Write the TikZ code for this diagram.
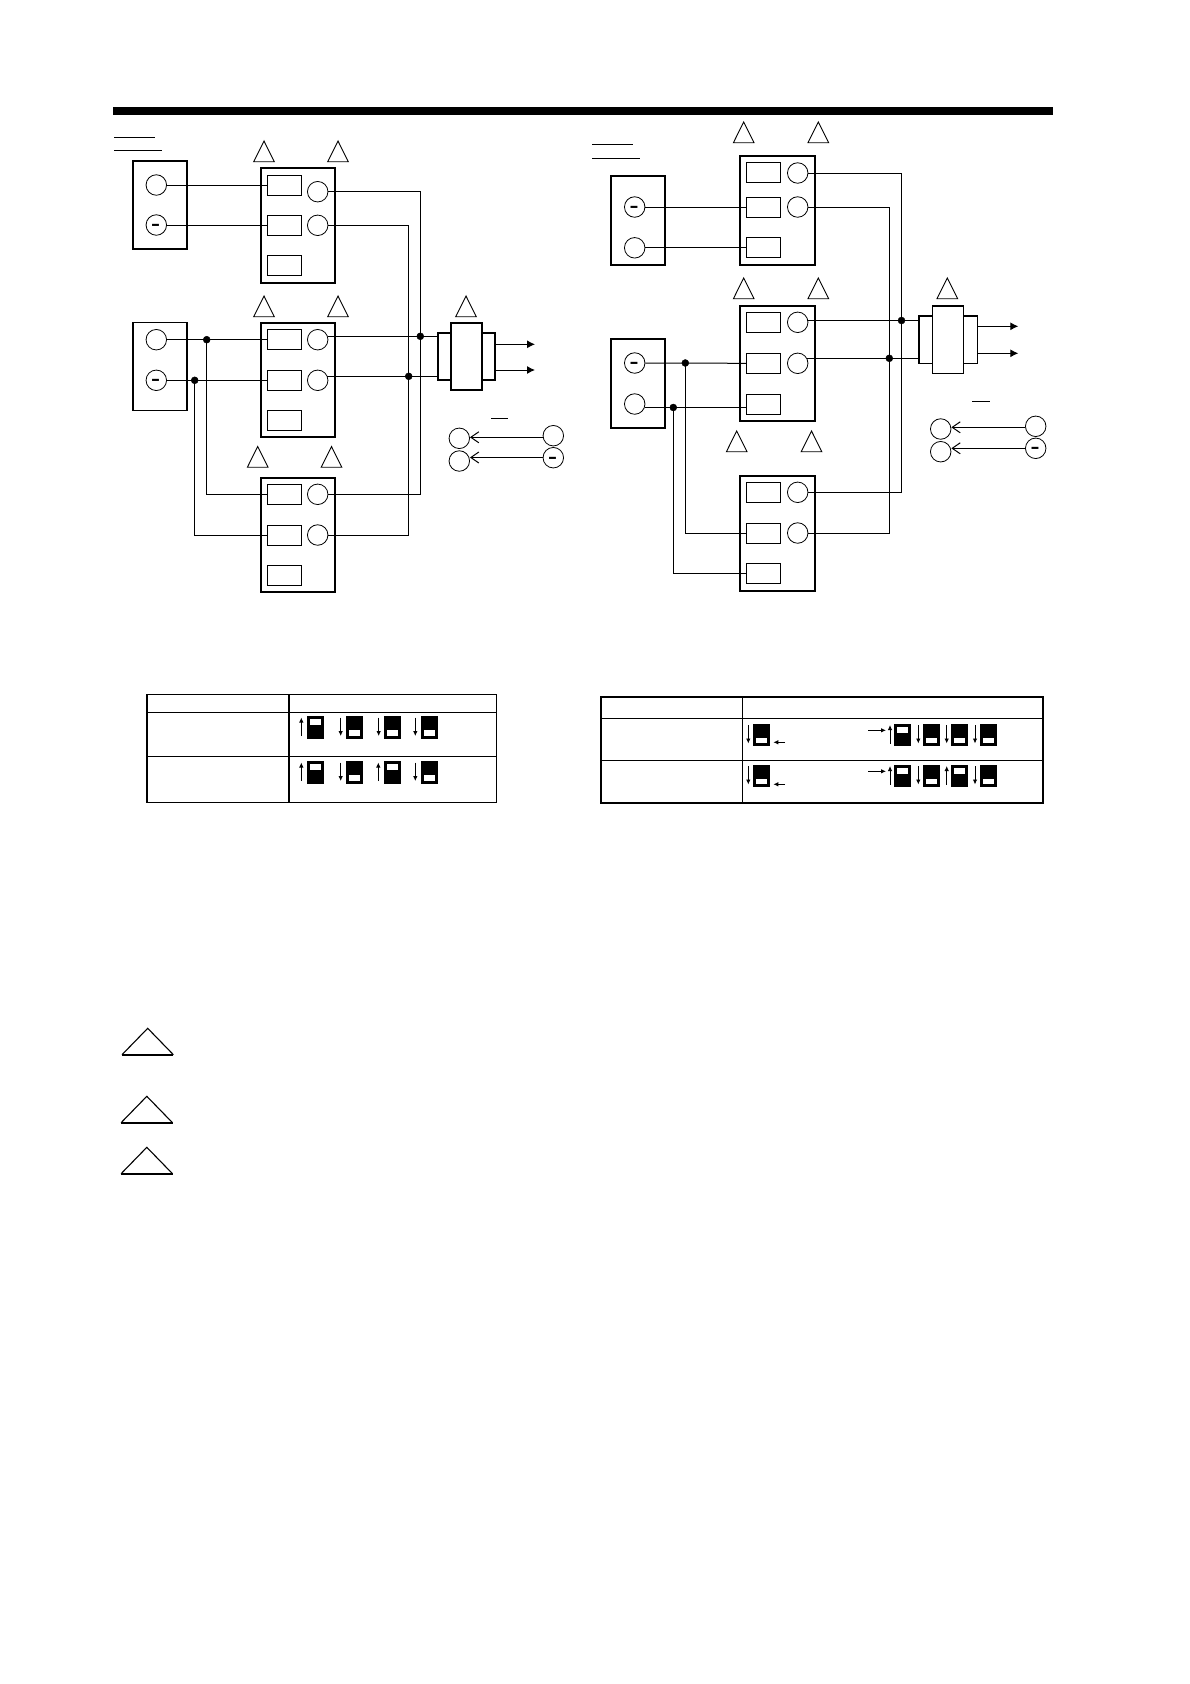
\documentclass[tikz,border=0pt]{standalone}
\usetikzlibrary{arrows.meta}
\tikzset{
  wire/.style={line width=1pt},
  termbox/.style={draw, line width=2pt, minimum width=74pt, inner sep=0pt},
  srcbox/.style={draw, line width=1.8pt, minimum width=54pt, inner sep=0pt},
  slot/.style={draw, line width=0.9pt, minimum width=34pt, minimum height=20pt, inner sep=0pt},
  port/.style={draw, circle, line width=0.8pt, minimum size=20.5pt, inner sep=0pt, font=\fontsize{23}{23}\selectfont\bfseries},
  dot/.style={draw, circle, fill=black, minimum size=7pt, inner sep=0pt},
  xfmr/.style={draw, line width=1.6pt, inner sep=0pt},
  sigarrow/.style={line width=1pt, -{Latex[length=8pt,width=8pt]}},
  legarrow/.style={line width=1pt, -{Straight Barb[length=8pt,width=11pt]}},
  mark tri/.style={draw, line width=0.9pt, line join=miter},
  swbody/.style={fill=black},
  swwin/.style={fill=white},
  swarrow/.style={line width=0.9pt, -{Latex[length=5pt,width=4.5pt]}}
}
\newcommand{\minussign}{\smash{\raisebox{-5.5pt}{-}}}
\newcommand{\swup}[3]{
  \fill[swbody] (#1,#2) rectangle ++(17,22.5);
  \fill[swwin] (#1+3,#2+3.3) rectangle ++(11,6);
  \draw[swarrow] (#3,#2+20) -- (#3,#2+1.5);
}
\newcommand{\swdown}[3]{
  \fill[swbody] (#1,#2) rectangle ++(17,22.5);
  \fill[swwin] (#1+3,#2+14) rectangle ++(11,5.5);
  \draw[swarrow] (#3,#2+1.5) -- (#3,#2+20);
}
\begin{document}
\begin{tikzpicture}[x=1pt, y=-1pt]
  \useasboundingbox (0,0) rectangle (1190,1684);

  \draw[line width=8pt] (113,110.7) -- (1053,110.7);
  \draw[wire] (114,137.5) -- (155,137.5);
  \draw[wire] (114,150) -- (162,150);
  \draw[wire] (592.3,144.7) -- (633,144.7);
  \draw[wire] (592.3,158) -- (640,158);

  \foreach \x/\y in {264/141, 338/141, 264/296, 338/296, 466/296, 257.7/446.5, 331.5/446.5,
      743.7/122, 818.3/122, 743.7/278, 818.3/278, 947.3/278, 736.7/431, 811.5/431}
    \draw[mark tri] (\x,\y) -- ++(-10.3,20.7) -- ++(20.6,0) -- cycle;
  \foreach \x/\y/\w in {147.7/1028.3/26.4, 146.8/1096.3/26.4, 146.8/1147.3/26.4} {
    \draw[line width=1.1pt] (\x-25.7,\y+\w) -- (\x,\y) -- (\x+25.7,\y+\w);
    \draw[line width=1.6pt] (\x-25.7,\y+\w) -- (\x+25.7,\y+\w);
  }

  \node[srcbox, minimum height=88pt] (srca) at (160,205) {};
  \node[port] (srca1) at (156.3,185) {};
  \node[port] (srca2) at (156.3,225) {\minussign};
  \node[srcbox, minimum height=88pt] (srcb) at (160,366.5) {};
  \node[port] (srcb1) at (156.3,339.7) {};
  \node[port] (srcb2) at (156.3,380.3) {\minussign};

  \node[termbox, minimum height=115pt] (tba) at (298.2,225.5) {};
  \node[termbox, minimum height=114pt] (tbb) at (298.2,380) {};
  \node[termbox, minimum height=114pt] (tbc) at (298.2,535) {};
  \foreach \n/\y in {a/185, b/339.7, c/494.3} {
    \node[slot] (tb\n s1) at (284.5,\y) {};
  }
  \foreach \n/\y in {a/225, b/380.3, c/535.3} {
    \node[slot] (tb\n s2) at (284.5,\y) {};
  }
  \foreach \n/\y in {a/265.3, b/420.3, c/575.3} {
    \node[slot] (tb\n s3) at (284.5,\y) {};
  }
  \node[port] (tbap1) at (317.7,191.7) {};
  \node[port] (tbap2) at (317.7,225.3) {};
  \node[port] (tbbp1) at (317.7,339.7) {};
  \node[port] (tbbp2) at (317.7,380.3) {};
  \node[port] (tbcp1) at (317.7,494.3) {};
  \node[port] (tbcp2) at (317.7,535) {};

  \node[dot] (ja) at (206.7,339.7) {};
  \node[dot] (jb) at (194.7,380.3) {};
  \node[dot] (jc) at (420.3,336.3) {};
  \node[dot] (jd) at (408.7,376.3) {};

  \node[xfmr, minimum width=31pt, minimum height=67.5pt] (trm) at (466.2,356.5) {};
  \node[xfmr, minimum width=13pt, minimum height=47.5pt] (trl) at (444.2,356.5) {};
  \node[xfmr, minimum width=13.5pt, minimum height=47.5pt] (trr) at (488.5,356.5) {};
  \coordinate (outa) at (535,344.3);
  \coordinate (outb) at (535,370);

  \draw[wire] (srca1.east) -- (tbas1.west);
  \draw[wire] (srca2.east) -- (tbas2.west);
  \draw[wire] (srcb1.east) -- (tbbs1.west);
  \draw[wire] (srcb2.east) -- (tbbs2.west);
  \draw[wire] (ja.center) |- (tbcs1.west);
  \draw[wire] (jb.center) |- (tbcs2.west);
  \draw[wire] (tbap1.east) -| (jc.center);
  \draw[wire] (tbap2.east) -| (jd.center);
  \draw[wire] (tbcp1.east) -| (jc.center);
  \draw[wire] (tbcp2.east) -| (jd.center);
  \draw[wire] (jc -| tbbp1.20) -- (jc -| trl.west);
  \draw[wire] (jd -| tbbp2.24) -- (jd -| trl.west);
  \draw[sigarrow] (outa -| trr.east) -- (outa);
  \draw[sigarrow] (outb -| trr.east) -- (outb);

  \draw[wire] (491,418.7) -- (508,418.7);
  \node[port] (legl1) at (459.3,438.3) {};
  \node[port] (legl2) at (459.3,461) {};
  \node[port] (legr1) at (553.3,435.7) {};
  \node[port] (legr2) at (553.3,457.7) {\minussign};
  \coordinate (lega) at (500,437.3);
  \coordinate (legb) at (500,457.5);
  \draw[legarrow] (lega -| legr1.west) -- (lega -| legl1.east);
  \draw[legarrow] (legb -| legr2.west) -- (legb -| legl2.east);

  \node[srcbox, minimum height=89pt] (srcc) at (638,220.5) {};
  \node[port] (srcc1) at (634.7,207) {\minussign};
  \node[port] (srcc2) at (634.7,247.8) {};
  \node[srcbox, minimum height=88.7pt] (srcd) at (638,383.7) {};
  \node[port] (srcd1) at (634.7,363) {\minussign};
  \node[port] (srcd2) at (634.7,404) {};

  \node[termbox, minimum width=75pt, minimum height=109pt] (tbd) at (777.6,210.5) {};
  \node[termbox, minimum width=75pt, minimum height=115pt] (tbe) at (777.6,363.5) {};
  \node[termbox, minimum width=75pt, minimum height=115.3pt] (tbf) at (777.6,533.3) {};
  \foreach \n/\y in {d/172.8, e/322.3, f/492.3} {
    \node[slot] (tb\n s1) at (763.5,\y) {};
  }
  \foreach \n/\y in {d/207, e/363.3, f/533.3} {
    \node[slot] (tb\n s2) at (763.5,\y) {};
  }
  \foreach \n/\y in {d/247.8, e/404.3, f/573.8} {
    \node[slot] (tb\n s3) at (763.5,\y) {};
  }
  \node[port] (tbdp1) at (797.7,173) {};
  \node[port] (tbdp2) at (797.7,207) {};
  \node[port] (tbep1) at (797.7,322.3) {};
  \node[port] (tbep2) at (797.7,363.3) {};
  \node[port] (tbfp1) at (797.7,492.3) {};
  \node[port] (tbfp2) at (797.7,533) {};

  \node[dot] (je) at (685.3,363) {};
  \node[dot] (jf) at (673.3,407.5) {};
  \node[dot] (jg) at (901.5,320.5) {};
  \node[dot] (jh) at (889.3,358.3) {};

  \node[xfmr, minimum width=31pt, minimum height=67.5pt] (trn) at (947.8,339.7) {};
  \node[xfmr, minimum width=13.6pt, minimum height=47.5pt] (trp) at (925.5,339.7) {};
  \node[xfmr, minimum width=14pt, minimum height=47.5pt] (trq) at (970.3,339.7) {};
  \coordinate (outc) at (1018.3,326.3);
  \coordinate (outd) at (1018.3,353.3);

  \draw[wire] (srcc1.east) -- (tbds2.west);
  \draw[wire] (srcc2.east) -- (tbds3.west);
  \draw[wire] (srcd1.east) -- (tbes2.west);
  \draw[wire] (jf -| srcd2.-17) -- (jf -| tbes3.west);
  \draw[wire] (je.center) |- (tbfs2.west);
  \draw[wire] (jf.center) |- (tbfs3.west);
  \draw[wire] (tbdp1.east) -| (jg.center);
  \draw[wire] (tbdp2.east) -| (jh.center);
  \draw[wire] (tbfp1.east) -| (jg.center);
  \draw[wire] (tbfp2.east) -| (jh.center);
  \draw[wire] (jg -| tbep1.11) -- (jg -| trp.west);
  \draw[wire] (jh -| tbep2.30) -- (jh -| trp.west);
  \draw[sigarrow] (outc -| trq.east) -- (outc);
  \draw[sigarrow] (outd -| trq.east) -- (outd);

  \draw[wire] (972.3,401) -- (990,401);
  \node[port] (legl3) at (940.7,429) {};
  \node[port] (legl4) at (940.7,451.7) {};
  \node[port] (legr3) at (1035.7,426.3) {};
  \node[port] (legr4) at (1035.7,448.3) {\minussign};
  \coordinate (legc) at (1000,427.3);
  \coordinate (legd) at (1000,448.3);
  \draw[legarrow] (legc -| legr3.west) -- (legc -| legl3.east);
  \draw[legarrow] (legd -| legr4.west) -- (legd -| legl4.east);

  \draw[line width=1.3pt] (146.7,694.7) rectangle (496.7,802.3);
  \draw[line width=1.8pt] (146.7,694.7) -- (146.7,802.3);
  \draw[line width=1.8pt] (289,694.7) -- (289,802.3);
  \draw[line width=1pt] (146.7,712.3) -- (496.7,712.3);
  \draw[line width=1pt] (146.7,756.3) -- (496.7,756.3);
  \swup{307}{716}{301.3}
  \swdown{346}{716}{340.7}
  \swdown{384}{716}{378.7}
  \swdown{421}{716}{415.3}
  \swup{307}{761}{301.3}
  \swdown{346}{761}{340.7}
  \swup{384}{761}{378.3}
  \swdown{421}{761}{415.3}

  \draw[line width=2pt] (600.7,696.7) rectangle (1042.7,803);
  \draw[line width=1.1pt] (742.3,696.7) -- (742.3,803);
  \draw[line width=1.1pt] (600.7,718.3) -- (1042.7,718.3);
  \draw[line width=1.1pt] (600.7,760.3) -- (1042.7,760.3);
  \swdown{753}{723.5}{748.3}
  \swup{894}{723.5}{890}
  \swdown{923}{723.5}{918.3}
  \swdown{951.3}{723.5}{946.7}
  \swdown{980}{723.5}{975}
  \swdown{753}{764.5}{748.3}
  \swup{894}{764.5}{890}
  \swdown{923}{764.5}{918.3}
  \swup{951.3}{764.5}{946.7}
  \swdown{980}{764.5}{975}
  \draw[swarrow] (785,742.3) -- (773.3,742.3);
  \draw[swarrow] (785,784.3) -- (773.3,784.3);
  \draw[swarrow] (868.3,730.3) -- (886,730.3);
  \draw[swarrow] (868.3,771.3) -- (886,771.3);
\end{tikzpicture}
\end{document}
